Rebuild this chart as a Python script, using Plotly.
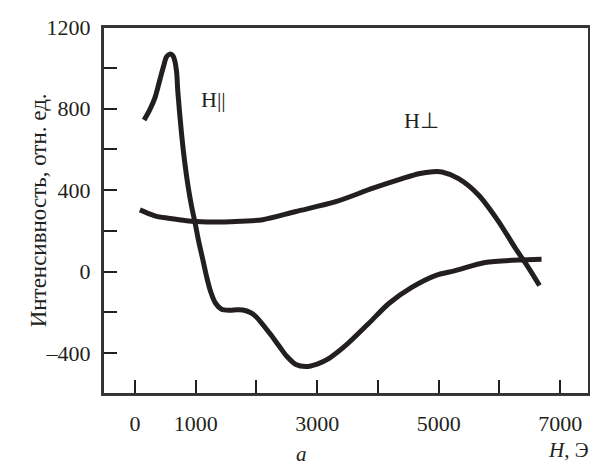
import plotly.graph_objects as go

# H|| curve (field parallel)
h_par_x = [152, 246, 328, 410, 475, 520, 574, 623, 656, 689, 705, 766, 820, 877, 934, 992, 1049,
           1115, 1180, 1246, 1328, 1426, 1557, 1680, 1776, 1900, 1995, 2213, 2377, 2500, 2650,
           2814, 3000, 3197, 3470, 3852, 4180, 4563, 4945, 5273, 5765, 6311, 6694]
h_par_y = [744, 795, 851, 940, 1011, 1053, 1067, 1060, 1035, 972, 890, 682, 537, 416, 319, 237, 150,
           63, -24, -97, -155, -184, -189, -187, -188, -200, -221, -300, -366, -415, -455,
           -465, -453, -425, -362, -253, -156, -76, -19, 5, 45, 57, 61]

# H⊥ curve (field perpendicular)
h_perp_x = [82, 250, 355, 550, 847, 1011, 1339, 1557, 2104, 2650, 3306, 3907, 4399, 4672, 4900, 5055,
            5328, 5656, 5984, 6257, 6475, 6660]
h_perp_y = [303, 282, 271, 262, 250, 246, 243, 245, 255, 295, 343, 408, 456, 480, 490, 489,
            456, 376, 247, 118, 21, -68]

x_tickvals = [0, 1000, 2000, 3000, 4000, 5000, 6000, 7000]
x_ticktext = ["0", "1000", "", "3000", "", "5000", "", "7000"]
y_tickvals = [-400, -200, 0, 200, 400, 600, 800, 1000, 1200]
y_ticktext = ["–400", "", "0", "", "400", "", "800", "", "1200"]

ink = "#231f20"
frame = "#3a3a3a"
font = "Liberation Serif"

fig = go.Figure()
fig.add_trace(go.Scatter(x=h_par_x, y=h_par_y, mode="lines",
                         line=dict(color=ink, width=5, shape="spline", smoothing=0.8),
                         showlegend=False, hoverinfo="skip"))
fig.add_trace(go.Scatter(x=h_perp_x, y=h_perp_y, mode="lines",
                         line=dict(color=ink, width=5, shape="spline", smoothing=0.8),
                         showlegend=False, hoverinfo="skip"))

# page body has an 8px margin, so the figure is 8px smaller and everything shifted
fig.update_layout(
    width=590, height=462,
    margin=dict(l=95, r=7, t=14, b=76),
    paper_bgcolor="white", plot_bgcolor="white",
    font=dict(family=font, size=22, color=ink),
    xaxis=dict(range=[-525, 7475], tickmode="array", tickvals=x_tickvals, ticktext=x_ticktext,
               ticks="inside", ticklen=14, tickwidth=1.5, tickcolor=ink,
               showline=True, mirror=True, linewidth=2, linecolor=frame,
               showgrid=False, zeroline=False, ticklabelstandoff=9),
    yaxis=dict(range=[-600, 1200], tickmode="array", tickvals=y_tickvals, ticktext=y_ticktext,
               ticks="inside", ticklen=14, tickwidth=1.5, tickcolor=ink,
               showline=True, mirror=True, linewidth=2, linecolor=frame,
               showgrid=False, zeroline=False, ticklabelstandoff=6),
    shapes=[dict(type="rect", xref="paper", yref="paper", x0=0, y0=0, x1=1, y1=1,
                 line=dict(color="#333333", width=2), fillcolor="rgba(0,0,0,0)", layer="above")],
    annotations=[
        dict(text="H||", x=1295, y=842, xref="x", yref="y", showarrow=False,
             font=dict(family=font, size=22, color=ink)),
        dict(text="H⊥", x=4721, y=740, xref="x", yref="y", showarrow=False,
             font=dict(family=font, size=22, color=ink)),
        dict(text="Интенсивность, отн. ед.", textangle=-90, xref="paper", yref="paper",
             x=(24 - 103) / 488, y=0.5, showarrow=False,
             font=dict(family=font, size=23, color=ink)),
        dict(text="<i>H</i>, Э", xref="paper", yref="paper", x=1.0, y=0, yanchor="top",
             yshift=-42, xanchor="right", xshift=2, showarrow=False,
             font=dict(family=font, size=21, color=ink)),
        dict(text="<i>a</i>", xref="paper", yref="paper", x=(302 - 103) / 488, y=0,
             yanchor="bottom", yshift=-74, showarrow=False,
             font=dict(family=font, size=21, color=ink)),
    ],
)

fig.write_html("out.html")
